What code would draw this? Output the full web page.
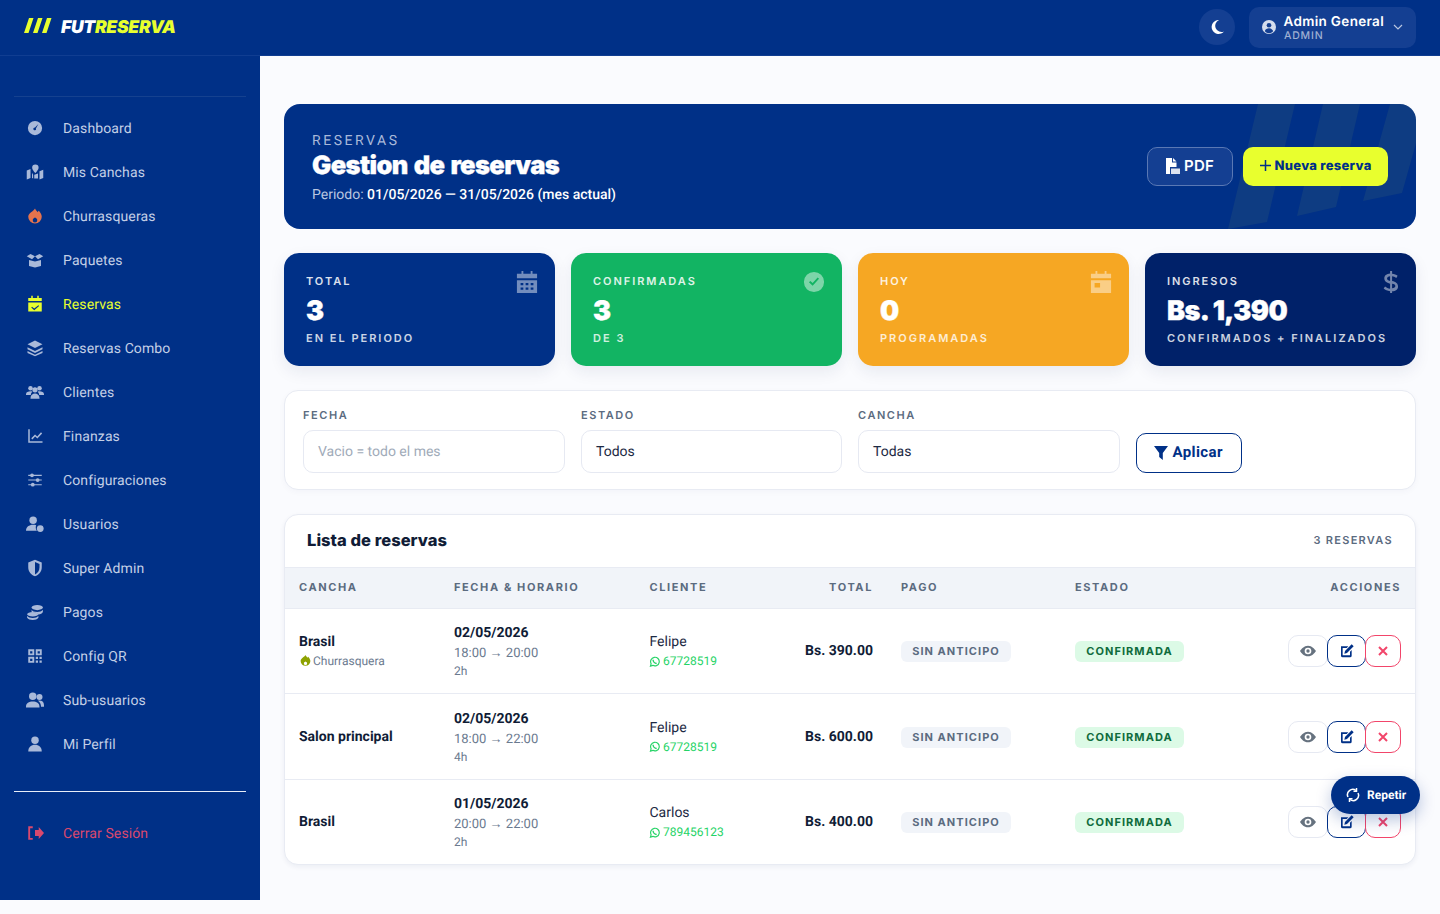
<!DOCTYPE html>
<html lang="es">
<head>
<meta charset="utf-8">
<title>FutReserva - Reservas</title>
<script src="https://cdn.jsdelivr.net/npm/chart.js@4"></script>
<style>
* { box-sizing: border-box; }
html, body { margin: 0; height: 914px; overflow: hidden; background: #fafbfe; font-family: Roboto, sans-serif; color: #14213d; text-rendering: geometricPrecision; }
.abs, .abs > * { position: absolute; }
.head { font-family: Inter, sans-serif; }
#topbar { left: 0; top: 0; width: 1440px; height: 56px; background: #003087; border-bottom: 1px solid #103d91; z-index: 2; }
#sidebar { left: 0; top: 56px; width: 260px; height: 844px; background: #003087; }
.nav { position: absolute; left: 0; width: 260px; height: 44px; }
.nav svg { position: absolute; left: 26px; top: 13px; width: 18px; height: 18px; }
.nav span { position: absolute; left: 63px; top: 1px; line-height: 44px; font-size: 14px; font-weight: 400; letter-spacing: .12px; }
.card { background: #fff; border: 1px solid #e8ebf3; border-radius: 14px; box-shadow: 0 2px 6px rgba(20,40,90,.03); }
.stat { position: absolute; top: 253px; width: 271px; height: 113px; border-radius: 15px; color: #fff; box-shadow: 0 6px 16px rgba(20,40,90,.08); }
.stat .l { position: absolute; left: 22px; top: 21px; font: 600 11px/14px Inter, sans-serif; letter-spacing: 1.95px; opacity: .86; white-space: nowrap; }
.stat .v { position: absolute; left: 22px; top: 39px; font: 900 27px/38px Inter, sans-serif; letter-spacing: -.55px; -webkit-text-stroke: .4px #fff; white-space: nowrap; }
.stat .n { position: absolute; left: 22px; top: 78px; font: 600 11px/14px Inter, sans-serif; letter-spacing: 2px; opacity: .8; white-space: nowrap; }
.stat svg { position: absolute; top: 17px; width: 22px; height: 24px; opacity: .45; }
.flabel { position: absolute; top: 408px; font: 600 11px/14px Inter, sans-serif; letter-spacing: 1.55px; color: #5b6b80; }
.finput { position: absolute; top: 430px; height: 43px; background: #fff; border: 1px solid #e6e9f2; border-radius: 10px; padding-left: 14px; line-height: 43px; font-size: 14px; color: #1d2a44; }
.th { position: absolute; top: 567px; font: 700 11px/41px Inter, sans-serif; letter-spacing: 1.6px; color: #5b6b80; white-space: nowrap; }
.cell { position: absolute; display: flex; flex-direction: column; justify-content: center; white-space: nowrap; }
.badge { position: absolute; height: 21px; border-radius: 6px; font: 700 11px/21px Inter, sans-serif; letter-spacing: 1.05px; text-align: center; }
.act { position: absolute; height: 32px; background: #fff; border-radius: 10px; display: flex; align-items: center; justify-content: center; }
.act svg { width: 16px; height: 16px; }
</style>
</head>
<body>
<div class="abs" id="root" style="left:0;top:0;width:1440px;height:914px;position:absolute">
  <div id="topbar" class="abs">
    <svg style="left:24px;top:18px" width="30" height="16" viewBox="0 0 30 16" fill="#e8ff2e"><path d="M5 0h4.500L4.500 15H0zM14 0h4.500L13.500 15H9zM23 0h4.500L22.500 15H18z"/></svg>
    <div class="head" style="left:61px;top:18px;font-size:17.500px;line-height:20px;font-weight:900;font-style:italic;letter-spacing:-.3px;white-space:nowrap"><span style="color:#fff">FUT</span><span style="color:#e8ff2e">RESERVA</span></div>
    <div style="left:1199px;top:9px;width:36px;height:36px;border-radius:50%;background:#143f92"></div>
    <svg style="left:1211px;top:20px" width="13" height="14" viewBox="0 0 13 14" fill="#fff"><path d="M8 0a7 7 0 1 0 5 11.500A6 6 0 0 1 8 0z"/></svg>
    <div style="left:1249px;top:7px;width:167px;height:41px;border-radius:10px;background:#143f92"></div>
    <svg style="left:1262px;top:20px" width="14" height="14" viewBox="0 0 14 14"><circle cx="7" cy="7" r="7" fill="#d5dded"/><circle cx="7" cy="5.300" r="2.300" fill="#143f92"/><path d="M2.800 11.300c.6-2.200 2.300-3 4.200-3s3.600.8 4.200 3a5.600 5.600 0 0 1-8.400 0z" fill="#143f92"/></svg>
    <div class="head" style="left:1283.500px;top:14px;font-size:13.500px;line-height:16px;font-weight:600;letter-spacing:.33px;color:#fff;white-space:nowrap">Admin General</div>
    <div class="head" style="left:1284px;top:30px;font-size:10.500px;line-height:12px;font-weight:500;letter-spacing:.8px;color:#9fb0d2">ADMIN</div>
    <svg style="left:1393px;top:24px" width="10" height="7" viewBox="0 0 10 7" fill="none" stroke="#b9c6e0" stroke-width="1.200"><path d="M1 1l4 4 4-4"/></svg>
  </div>
  <div id="sidebar"></div>
  <div style="left:14px;top:96px;width:232px;height:1px;background:#15418f"></div>
  <div id="nav" style="left:0;top:0;width:260px;height:900px"></div>
  <div style="left:14px;top:791px;width:232px;height:1px;background:#e8eef8"></div>

  <div style="left:284px;top:104px;width:1132px;height:125px;background:#003087;border-radius:16px;overflow:hidden">
    <svg width="1132" height="125" style="position:absolute;left:0;top:0" fill="rgba(232,255,46,.06)"><path d="M974 0h37l-28 118-39 7zM1039 0h37l-24 103-39 9zM1106 0h37l-25 89-39 8z"/></svg>
  </div>
  <div style="left:312px;top:133px;font-size:14px;line-height:17px;letter-spacing:2.55px;color:#a8b8d9;font-weight:400">RESERVAS</div>
  <div class="head" style="left:312px;top:150px;font-size:25.500px;line-height:32px;font-weight:900;letter-spacing:-.6px;word-spacing:1.500px;-webkit-text-stroke:.3px #fff;color:#fff;white-space:nowrap">Gestion de reservas</div>
  <div style="left:312px;top:187px;font-size:14px;line-height:17px;color:#b9c6e0;white-space:nowrap">Periodo: <b style="color:#fff;font-weight:500" id="periodo"></b></div>
  <div style="left:1147px;top:147px;width:86px;height:39px;background:#143f92;border:1px solid #5a78b4;border-radius:10px"></div>
  <svg style="left:1165px;top:158px" width="15" height="16" viewBox="0 0 15 16" fill="#fff"><path d="M1 0h6v4.500h4.500V9H5v7H1z"/><path d="M8 0l3.500 3.500H8z"/><path d="M6 10.500h9V16H6z" opacity=".85"/></svg>
  <div class="head" style="left:1184px;top:157px;font-size:15px;line-height:18px;font-weight:600;letter-spacing:.3px;color:#fff">PDF</div>
  <div style="left:1243px;top:147px;width:145px;height:39px;background:#e8ff2e;border-radius:10px"></div>
  <svg style="left:1260px;top:160px" width="11" height="11" viewBox="0 0 11 11" stroke="#003087" stroke-width="1.500"><path d="M5.500 0v11M0 5.500h11"/></svg>
  <div class="head" style="left:1274.500px;top:156.500px;font-size:13px;line-height:18px;font-weight:800;letter-spacing:.28px;color:#003087;white-space:nowrap">Nueva reserva</div>

  <div id="stats" style="left:0;top:0;width:1440px"></div>

  <div class="card" style="left:284px;top:390px;width:1132px;height:100px"></div>
  <div id="filters" style="left:0;top:0;width:1440px"></div>
  <div style="left:1136px;top:433px;width:106px;height:40px;background:#fff;border:1px solid #003087;border-radius:10px"></div>
  <svg style="left:1154px;top:446px" width="14" height="14" viewBox="0 0 14 14" fill="#003087"><path d="M0 0h14L8.800 7v7L5.200 11V7z"/></svg>
  <div style="left:1172.500px;top:443px;font-size:15px;line-height:18px;font-weight:700;letter-spacing:.4px;color:#003087">Aplicar</div>

  <div class="card" style="left:284px;top:514px;width:1132px;height:351px;overflow:hidden;box-shadow:0 2px 5px rgba(20,40,90,.06)">
    <div style="position:absolute;left:0;top:52px;width:1132px;height:42px;background:#f1f4f9;border-top:1px solid #e8ebf3;border-bottom:1px solid #e8ebf3"></div>
    <div style="position:absolute;left:0;top:178px;width:1132px;height:1px;background:#e8ebf3"></div>
    <div style="position:absolute;left:0;top:264px;width:1132px;height:1px;background:#e8ebf3"></div>
  </div>
  <div class="head" style="left:307px;top:530px;font-size:16.500px;line-height:21px;font-weight:800;letter-spacing:.05px;color:#101c36;white-space:nowrap">Lista de reservas</div>
  <div class="head" style="right:47px;top:533px;font-size:11px;line-height:14px;font-weight:600;letter-spacing:1.3px;color:#5b6b80;white-space:nowrap" id="conteo"></div>
  <div id="table" style="left:0;top:0;width:1440px;height:914px"></div>

  <div style="left:1331px;top:776px;width:89px;height:38px;border-radius:19px;background:#003087;box-shadow:0 6px 16px rgba(0,48,135,.28)"></div>
  <svg style="left:1346px;top:788px" width="14" height="14" viewBox="0 0 14 14" fill="none" stroke="#fff" stroke-width="1.500"><path d="M2 9a5.300 5.300 0 0 1 8-6.500"/><path d="M12 5a5.300 5.300 0 0 1-8 6.500"/><path d="M10.500 0v3.200H7.500M3.500 14v-3.200h3"/></svg>
  <div style="left:1367px;top:787px;font-size:12px;line-height:16px;font-weight:700;color:#fff">Repetir</div>
</div>

<script>
// datos de la pantalla
const navLabels = ['Dashboard', 'Mis Canchas', 'Churrasqueras', 'Paquetes', 'Reservas', 'Reservas Combo', 'Clientes', 'Finanzas', 'Configuraciones', 'Usuarios', 'Super Admin', 'Pagos', 'Config QR', 'Sub-usuarios', 'Mi Perfil'];
const statLabels = ['TOTAL', 'CONFIRMADAS', 'HOY', 'INGRESOS'];
const statValues = ['3', '3', '0', 'Bs. 1,390'];
const statNotes = ['EN EL PERIODO', 'DE 3', 'PROGRAMADAS', 'CONFIRMADOS + FINALIZADOS'];
const filterLabels = ['FECHA', 'ESTADO', 'CANCHA'];
const filterValues = ['Vacio = todo el mes', 'Todos', 'Todas'];
const tableHeaders = ['CANCHA', 'FECHA & HORARIO', 'CLIENTE', 'TOTAL', 'PAGO', 'ESTADO', 'ACCIONES'];
const canchas = ['Brasil', 'Salon principal', 'Brasil'];
const extras = ['Churrasquera', '', ''];
const fechas = ['02/05/2026', '02/05/2026', '01/05/2026'];
const horarios = ['18:00 → 20:00', '18:00 → 22:00', '20:00 → 22:00'];
const duraciones = ['2h', '4h', '2h'];
const clientes = ['Felipe', 'Felipe', 'Carlos'];
const telefonos = ['67728519', '67728519', '789456123'];
const totales = ['Bs. 390.00', 'Bs. 600.00', 'Bs. 400.00'];
const pagos = ['SIN ANTICIPO', 'SIN ANTICIPO', 'SIN ANTICIPO'];
const estados = ['CONFIRMADA', 'CONFIRMADA', 'CONFIRMADA'];

const navIcons = [
  '<path fill-rule="evenodd" d="M12 2.500a9.500 9.500 0 1 0 0 19 9.500 9.500 0 0 0 0-19zm4.500 4.200-3.300 5.800a1.800 1.800 0 1 1-1.500-1z"/>',
  '<path d="M1 10l5-2v12l-5 2zM18 11l5-2v11l-5 2zM8 13l1.500 2.500v5L8 20zM16 14v6.500l-5 0v-5zM12.500 2a4.300 4.300 0 0 1 4.300 4.300c0 2.700-4.300 7.200-4.300 7.200s-4.300-4.500-4.300-7.200A4.300 4.300 0 0 1 12.500 2z"/>',
  '<path fill-rule="evenodd" d="M12 2c1 3 3 3 3 5l2-2c2 2 4 5 4 8a9 9 0 0 1-18 0c0-5 7-7 9-11zm0 12c-2 1-3 2-3 3.500a3 3 0 0 0 6 0c0-1.500-1-2.500-3-3.500z"/>',
  '<path d="M4 12l8 2 8-2v8l-8 2-8-2zM1 7l5-3 6 3-4 4zM23 7l-5-3-6 3 4 4z"/>',
  '<path fill-rule="evenodd" d="M7 1h2v3h6V1h2v3h4v4H3V4h4zM3 10h18v12H3zm13.500 3.500L11 18l-3-2.500-1 1.200 4 3.500 6.500-5.500z"/>',
  '<path d="M12 2l10 5-10 5L2 7zM2 11l10 5 10-5v2.500l-10 5-10-5zM2 16l10 5 10-5v2.500L12 23 2 18.500z"/>',
  '<circle cx="6" cy="7" r="3"/><circle cx="18" cy="7" r="3"/><circle cx="12" cy="9" r="3.500"/><path d="M0 15c0-3 3-4 6-4 1 0 2 .2 2.500.5C7 13 6.500 14 6.500 16H0zM24 15c0-3-3-4-6-4-1 0-2 .2-2.500.5 1.500 1.500 2 2.500 2 4.500H24zM6 20c0-4 3-6 6-6s6 2 6 6v1H6z"/>',
  '<path d="M3 3h2v16h17v2H3z"/><path d="M7 15l5-5 3 2.500L20 7l1.500 1.500-6.300 6.800-3-2.500-3.700 3.700z"/>',
  '<path d="M3 5h18v1.500H3zM3 11.300h18v1.500H3zM3 17.600h18v1.500H3z"/><circle cx="8" cy="5.700" r="2.500"/><circle cx="15.500" cy="12" r="2.500"/><circle cx="9" cy="18.300" r="2.500"/>',
  '<circle cx="9.500" cy="7" r="5"/><path d="M0 21c0-5 4-8 9.500-8 1.500 0 3 .2 4 .7-1 3-.5 5.500 1 7.300z"/><circle cx="19" cy="18" r="4.500"/>',
  '<path fill-rule="evenodd" d="M12 1l9 3.500V11c0 6-4 10.500-9 12-5-1.500-9-6-9-12V4.500zm0 3v16.500c3.500-1.300 6-5 6-9.500V6.500z"/>',
  '<ellipse cx="15" cy="6" rx="7.500" ry="3.500"/><path d="M7.500 9c1 2 3.500 3 7.500 3 3 0 6-1 7.500-3v3c-1 2-3 3-6 3.300-1.500-2-5-3-9-3z"/><ellipse cx="9" cy="15" rx="7.500" ry="3"/><path d="M1.500 17c1.500 2 4 3 7.500 3s6-1 7.500-3v2.500c-1.500 2-4 3-7.500 3s-6-1-7.500-3z"/>',
  '<path fill-rule="evenodd" d="M3 3h8v8H3zm2.500 2.500v3h3v-3zM13 3h8v8h-8zm2.500 2.500v3h3v-3zM3 13h8v8H3zm2.500 2.500v3h3v-3zM13 13h3v3h-3zM18 13h3v3h-3zM13 18h3v3h-3zM18 18h3v3h-3z"/>',
  '<circle cx="9" cy="7" r="5"/><circle cx="18" cy="8" r="4"/><path d="M0 21c0-5 4-7 9-7s9 2 9 7v1H0zM16 13c4-1 8 1 8 5.500V21h-4c0-3-1-6-4-8z"/>',
  '<circle cx="12" cy="7" r="5"/><path d="M3 22c0-6 4-9 9-9s9 3 9 9z"/>'
];
const navColor = i => i === 4 ? '#e8ff2e' : '#c3cfe6';
const iconColor = i => i === 2 ? '#e5734d' : i === 4 ? '#e8ff2e' : '#a9b9d9';

const svgIcon = {
  calendar: '<path fill-rule="evenodd" d="M6 0h2v3h8V0h2v3h5v5H1V3h5zM1 10h22v14H1zm4 3v2.500h3V13zm5.500 0v2.500h3V13zm5.500 0v2.500h3V13zM5 18v2.500h3V18zm5.500 0v2.500h3V18zm5.500 0v2.500h3V18z"/>',
  check: '<path fill-rule="evenodd" d="M12 1a11 11 0 1 0 0 22 11 11 0 0 0 0-22zm5.500 7.500L10.500 16 6.500 12.300 8 10.800l2.500 2.300 5.500-6z"/>',
  today: '<path fill-rule="evenodd" d="M6 0h2v3h8V0h2v3h5v5H1V3h5zM1 10h22v14H1zm4 3v5h6v-5z"/>',
  dollar: '<path d="M11 0h2.200v3c2.500.2 4.500 1 6 2.200l-1.400 2.300c-1.500-1-3-1.700-4.600-1.900v5.200c4 1 6.500 2.500 6.500 6 0 3.200-2.500 5-6.500 5.300V24H11v-2c-3-.2-5.300-1.300-7-2.800l1.500-2.300c1.600 1.300 3.400 2.200 5.500 2.400v-5.500c-4-1-6.300-2.500-6.300-5.800 0-3.200 2.500-5 6.300-5.300zm0 5.600c-2 .2-3.300 1.200-3.300 2.600 0 1.300 1 2 3.300 2.700zm2.200 8.300v5c2.200-.2 3.500-1.200 3.500-2.600s-1-2-3.500-2.400z"/>'
};
const statColors = ['#003087', '#12b463', '#f6a723', '#002169'];
const statIcons = [svgIcon.calendar, svgIcon.check, svgIcon.today, svgIcon.dollar];
const statX = [284, 571, 858, 1145];
const filterX = [303, 581, 858];
const filterW = [262, 261, 262];
const headerX = [299, 454, 649.5, null, 901, 1075, null];
const rowMid = [651, 736.5, 822];

document.getElementById('periodo').textContent = '01/05/2026 — 31/05/2026 (mes actual)';
document.getElementById('conteo').textContent = canchas.length + ' RESERVAS';

function buildNav() {
  let html = '';
  navLabels.forEach((label, i) => {
    html += `<div class="nav" style="top:${106 + i * 44}px"><svg viewBox="0 0 24 24" fill="${iconColor(i)}">${navIcons[i]}</svg><span style="color:${navColor(i)}">${label}</span></div>`;
  });
  html += `<div class="nav" style="top:811px"><svg viewBox="0 0 24 24" fill="#d9486e"><path d="M3 3h6v2.500H5.500v13H9V21H3zM12 8h5V4l7 8-7 8v-4h-5z"/></svg><span style="color:#d9486e">Cerrar Sesión</span></div>`;
  document.getElementById('nav').innerHTML = html;
}

function buildStats() {
  document.getElementById('stats').innerHTML = statLabels.map((label, i) =>
    `<div class="stat" style="left:${statX[i]}px;background:${statColors[i]}"><div class="l">${label}</div><div class="v">${statValues[i]}</div><div class="n">${statNotes[i]}</div><svg viewBox="0 0 24 24" fill="#fff" style="left:${i === 3 ? 235 : 232}px">${statIcons[i]}</svg></div>`
  ).join('');
}

function buildFilters() {
  document.getElementById('filters').innerHTML = filterLabels.map((label, i) =>
    `<div class="flabel" style="left:${filterX[i]}px">${label}</div><div class="finput" style="left:${filterX[i]}px;width:${filterW[i]}px;${i === 0 ? 'color:#a1abb9' : ''}">${filterValues[i]}</div>`
  ).join('');
}

const fireSvg = '<svg viewBox="0 0 24 24" width="13" height="14" fill="#8ea200" style="vertical-align:-3px;margin-right:1px"><path fill-rule="evenodd" d="M12 1c1 3 3 3 3 5l2-2c2 2 4 5 4 8a9 9 0 0 1-18 0c0-5 7-7 9-11zm0 12c-2 1-3 2-3 3.500a3 3 0 0 0 6 0c0-1.500-1-2.500-3-3.500z"/></svg>';
const waSvg = '<svg viewBox="0 0 24 24" width="11.500" height="11.500" fill="none" stroke="#25d366" stroke-width="2.400" style="vertical-align:-2px;margin-right:3px;margin-left:-1px"><path d="M3 21l1.500-5a9 9 0 1 1 3.500 3.500z"/><path d="M8.500 8c0 4 3.500 7.500 7.500 7.500" stroke-width="3"/></svg>';

function buildTable() {
  let html = '';
  tableHeaders.forEach((h, i) => {
    if (i === 3) html += `<div class="th" style="right:567px">${h}</div>`;
    else if (i === 6) html += `<div class="th" style="right:39px">${h}</div>`;
    else html += `<div class="th" style="left:${headerX[i]}px">${h}</div>`;
  });
  canchas.forEach((c, i) => {
    const mid = rowMid[i];
    const y = mid - 42, h = 84;
    html += `<div class="cell" style="left:299px;top:${y}px;height:${h}px;${i === 1 ? 'padding-top:1px' : ''}"><div style="font-size:14px;line-height:19px;font-weight:700;color:#101c36">${c}</div>${extras[i] ? `<div style="font-size:12px;line-height:18px;color:#6b7a8f">${fireSvg}${extras[i]}</div>` : ''}</div>`;
    html += `<div class="cell" style="left:454px;top:${y}px;height:${h}px"><div style="font-size:14px;line-height:21px;font-weight:700;color:#101c36">${fechas[i]}</div><div style="font-size:13px;line-height:20px;color:#6b7a8f">${horarios[i]}</div><div style="font-size:12px;line-height:15px;color:#6b7a8f">${duraciones[i]}</div></div>`;
    html += `<div class="cell" style="left:649.500px;top:${y}px;height:${h}px"><div style="font-size:14px;line-height:20px;color:#1d2a44">${clientes[i]}</div><div style="font-size:12px;line-height:18px;color:#25d366">${waSvg}${telefonos[i]}</div></div>`;
    html += `<div class="cell" style="right:567px;top:${y}px;height:${h}px;font-size:14px;font-weight:700;color:#101c36">${totales[i]}</div>`;
    html += `<div class="badge" style="left:901px;top:${mid - 10}px;width:110px;background:#f1f4f9;color:#5b6b80">${pagos[i]}</div>`;
    html += `<div class="badge" style="left:1075px;top:${mid - 10}px;width:109px;background:#dcfae6;color:#0f6b3c">${estados[i]}</div>`;
    html += `<div class="act" style="left:1288px;top:${mid - 16}px;width:40px;border:1px solid #e6e9f2"><svg viewBox="0 0 24 24" fill="#66727f"><path fill-rule="evenodd" d="M12 4C6 4 2 9 0 12c2 3 6 8 12 8s10-5 12-8c-2-3-6-8-12-8zm0 3a5 5 0 1 1 0 10 5 5 0 0 1 0-10z"/><circle cx="12" cy="12" r="2.500"/></svg></div>`;
    html += `<div class="act" style="left:1327px;top:${mid - 16}px;width:39px;border:1px solid #003087"><svg viewBox="0 0 24 24" fill="#003087"><path d="M3 5h11l-2.500 2.500H5.500v11h11V13l2.500-2.500V19a2.500 2.500 0 0 1-2.500 2.500H5.500A2.500 2.500 0 0 1 3 19zM19 2l3 3L12 15l-4 1 1-4z"/></svg></div>`;
    html += `<div class="act" style="left:1365px;top:${mid - 16}px;width:36px;border:1px solid #f2456a"><svg viewBox="0 0 24 24" fill="none" stroke="#f2456a" stroke-width="3"><path d="M6 6l12 12M18 6L6 18"/></svg></div>`;
  });
  document.getElementById('table').innerHTML = html;
}

buildNav();
buildStats();
buildFilters();
buildTable();
</script>
</body>
</html>
